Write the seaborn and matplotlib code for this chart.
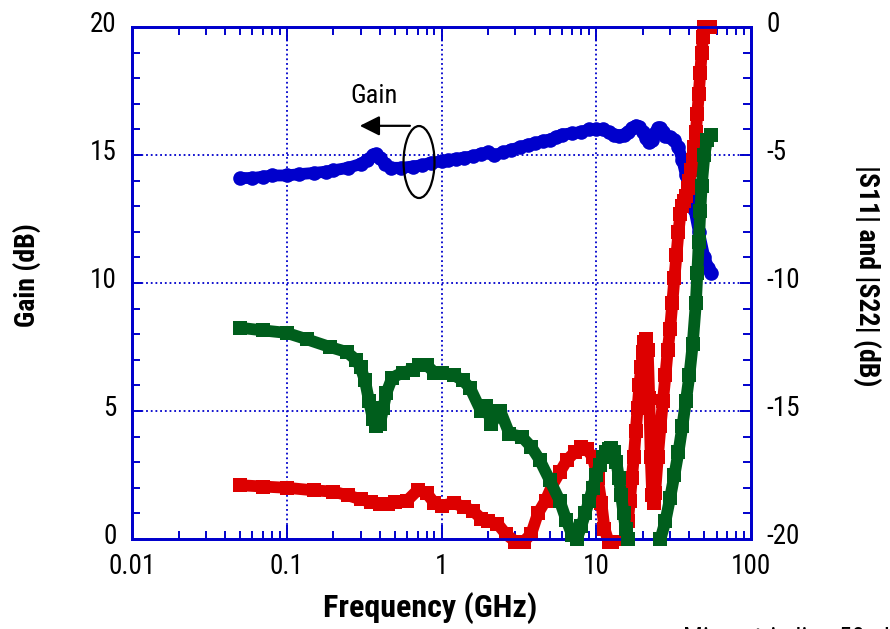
import numpy as np
import pandas as pd
import matplotlib
matplotlib.use("Agg")
import matplotlib.pyplot as plt
import matplotlib.transforms as mtransforms
import seaborn as sns
from matplotlib.patches import Ellipse
from matplotlib.ticker import LogLocator, MultipleLocator, FuncFormatter, NullFormatter

sns.set_theme(style="white")
plt.rcParams['font.family'] = ['Roboto Condensed', 'Archivo Narrow', 'DejaVu Sans']
plt.rcParams['axes.unicode_minus'] = False

# ---------------- data ----------------
gain_f = [0.05, 0.06, 0.07, 0.08, 0.1, 0.12, 0.15, 0.18, 0.2, 0.25, 0.3, 0.33, 0.36, 0.38,
          0.4, 0.43, 0.47, 0.55, 0.65, 0.75, 0.85, 1.0, 1.1, 1.25, 1.4, 1.6, 1.8, 2.0, 2.2,
          2.5, 2.8, 3.2, 3.6, 4.0, 4.5, 5.0, 5.5, 6.0, 7.0, 8.0, 9.0, 10, 11, 12, 13, 14, 15,
          16, 17, 18, 19, 20, 21, 22, 23, 24, 25, 26, 27, 28, 30, 32, 34, 36, 38, 40, 43, 46,
          50, 53, 55]
gain_db = [14.1, 14.1, 14.15, 14.2, 14.2, 14.25, 14.3, 14.35, 14.4, 14.5, 14.65, 14.8, 15.0, 15.05,
           14.9, 14.65, 14.5, 14.5, 14.55, 14.6, 14.7, 14.75, 14.8, 14.85, 14.9, 14.95, 15.05, 15.1, 15.0,
           15.1, 15.2, 15.3, 15.4, 15.45, 15.55, 15.6, 15.7, 15.8, 15.85, 15.9, 16.0, 16.0, 16.0, 15.9, 15.8, 15.75, 15.8,
           15.9, 16.05, 16.15, 16.1, 15.9, 15.65, 15.5, 15.6, 15.85, 16.05, 16.05, 15.9, 15.75, 15.7, 15.6, 15.3, 14.8, 14.2, 13.7, 12.9, 12.0,
           11.0, 10.6, 10.4]

# |S11| (right axis), two measured stretches (below -20 dB in between is off scale)
s11_f1 = [0.05, 0.07, 0.1, 0.15, 0.2, 0.25, 0.3, 0.35, 0.4, 0.45, 0.5, 0.6, 0.7, 0.8, 0.9,
          1.0, 1.2, 1.4, 1.6, 1.8, 2.0, 2.3, 2.6, 3.0, 3.4, 3.8, 4.2, 4.7, 5.2, 5.8, 6.5, 7.3,
          8.0, 8.7, 9.5, 10.2, 10.8, 11.3, 12.0, 12.7]
s11_db1 = [-17.9, -17.95, -18.0, -18.1, -18.15, -18.3, -18.45, -18.55, -18.65, -18.65, -18.55, -18.5, -18.1, -18.2, -18.6,
           -18.7, -18.6, -18.75, -18.9, -19.2, -19.3, -19.4, -19.8, -20.1, -20.1, -19.8, -19.0, -18.5, -17.9, -17.4, -16.9, -16.6,
           -16.4, -16.5, -16.8, -17.6, -18.6, -19.6, -20.1, -20.1]
s11_f2 = [15.5, 16.0, 16.5, 17.0, 17.5, 18.0, 18.5, 19.0, 19.5, 20.0, 20.5, 21.0, 21.5, 22.0,
          22.5, 23.0, 23.5, 24.0, 25.0, 26.0, 27.0, 28.0, 29.0, 30.0, 31.0, 32.0, 33.0, 34.0,
          35.0, 36.0, 37.0, 38.0, 39.0, 40.0, 41.0, 42.0, 43.0, 44.0, 45.0, 46.0, 47.0, 48.0,
          49.0, 50.0, 52.0, 54.0]
s11_db2 = [-20.0, -19.3, -18.5, -17.6, -16.8, -15.8, -14.9, -14.0, -13.3, -12.7, -12.3, -12.2, -12.6, -14.5,
           -16.8, -18.3, -18.6, -18.2, -16.8, -15.6, -14.6, -13.6, -12.6, -11.8, -10.8, -9.8, -8.9, -8.0,
           -7.3, -7.0, -6.8, -6.6, -6.3, -6.0, -5.6, -5.2, -4.7, -4.1, -3.4, -2.6, -1.8, -1.0,
           -0.4, 0.0, 0.0, 0.0]

# |S22| (right axis)
s22_f1 = [0.05, 0.07, 0.1, 0.135, 0.19, 0.245, 0.28, 0.3, 0.32, 0.34, 0.36, 0.38, 0.4, 0.42, 0.44,
          0.48, 0.56, 0.65, 0.72, 0.8, 0.9, 1.0, 1.2, 1.37, 1.53, 1.8, 1.95, 2.1, 2.4, 2.75,
          3.3, 3.8, 4.3, 5.0, 5.8, 6.4, 7.0, 7.5, 8.0, 8.5, 9.0, 9.5, 10.0, 10.5, 11.0,
          11.5, 12.0, 12.5, 13.0, 13.5, 14.0, 14.5, 15.0, 15.5, 16.0]
s22_db1 = [-11.75, -11.85, -11.95, -12.2, -12.5, -12.7, -13.0, -13.3, -13.8, -14.6, -15.3, -15.6, -15.5, -14.9, -14.3,
           -13.7, -13.5, -13.4, -13.2, -13.2, -13.5, -13.5, -13.6, -13.8, -14.1, -15.0, -14.8, -15.5, -15.0, -15.9,
           -16.0, -16.4, -16.9, -17.7, -18.5, -19.25, -19.85, -20.0, -19.5, -19.0, -18.5, -18.0, -17.5, -17.1, -16.8,
           -16.6, -16.5, -16.45, -16.6, -17.0, -17.6, -18.3, -19.0, -19.6, -20.0]
s22_f2 = [26, 28, 30, 32, 34, 36, 38, 40, 42, 44, 45, 46, 47, 48, 50, 52, 55]
s22_db2 = [-20.0, -19.3, -18.4, -17.5, -16.6, -15.6, -14.6, -13.6, -12.4, -10.8, -9.6, -8.4, -7.2, -6.2, -5.0, -4.4, -4.2]

x_ticks = [0.01, 0.1, 1, 10, 100]
gain_ticks = [0, 5, 10, 15, 20]
s_ticks = [-20, -15, -10, -5, 0]

BLUE = '#0000CC'
RED = '#DD0000'
GREEN = '#005E1C'

gain_df = pd.DataFrame({'f': gain_f, 'v': gain_db})
s11_df = pd.concat([pd.DataFrame({'f': s11_f1, 'v': s11_db1, 'seg': 0}),
                    pd.DataFrame({'f': s11_f2, 'v': s11_db2, 'seg': 1})], ignore_index=True)
s22_df = pd.concat([pd.DataFrame({'f': s22_f1, 'v': s22_db1, 'seg': 0}),
                    pd.DataFrame({'f': s22_f2, 'v': s22_db2, 'seg': 1})], ignore_index=True)

# ---------------- figure ----------------
fig = plt.figure(figsize=(8.9, 6.29), dpi=100)
fig.patch.set_facecolor('white')
ax = fig.add_axes([132 / 890, 1 - 539 / 629, (751 - 132) / 890, (539 - 27) / 629])
ax.set_xscale('log')
ax2 = ax.twinx()

common = dict(estimator=None, sort=False, legend=False, linewidth=8.5, markersize=10.5,
              markeredgewidth=0, clip_on=False, solid_capstyle='round', solid_joinstyle='round')

sns.lineplot(data=gain_df, x='f', y='v', ax=ax, color=BLUE, marker='o', zorder=3, **common)
sns.lineplot(data=s11_df, x='f', y='v', units='seg', ax=ax2, color=RED, marker='s', zorder=2, **common)
sns.lineplot(data=s22_df, x='f', y='v', units='seg', ax=ax2, color=GREEN, marker='s', zorder=4, **common)

ax.set_xlim(0.01, 100)
ax.set_ylim(0, 20)
ax2.set_ylim(-20, 0)

ax.xaxis.set_major_locator(LogLocator(base=10, numticks=10))
ax.xaxis.set_minor_locator(LogLocator(base=10, subs=np.arange(2, 10), numticks=50))
ax.xaxis.set_major_formatter(FuncFormatter(lambda v, p: f'{v:g}'))
ax.xaxis.set_minor_formatter(NullFormatter())
ax.set_xticks(x_ticks)
ax.set_yticks(gain_ticks)
ax.yaxis.set_minor_locator(MultipleLocator(1))
ax2.set_yticks(s_ticks)
ax2.yaxis.set_major_formatter(FuncFormatter(lambda v, p: f'{v:g}'))
ax2.yaxis.set_minor_locator(MultipleLocator(1))

ax.tick_params(axis='x', which='both', direction='in', top=True, bottom=True,
               color=BLUE, width=1.4, labelsize=19.5, pad=10, labelcolor='black')
ax.tick_params(axis='x', which='major', length=10)
ax.tick_params(axis='x', which='minor', length=5.5)
ax.tick_params(axis='y', which='both', direction='in', left=True, right=False,
               color=BLUE, width=1.4, labelsize=19.5, pad=11, labelcolor='black')
ax.tick_params(axis='y', which='major', length=7)
ax.tick_params(axis='y', which='minor', length=5.5)
ax2.tick_params(axis='y', which='both', direction='in', right=True, left=False,
                color=BLUE, width=1.4, labelsize=19.5, pad=11, labelcolor='black')
ax2.tick_params(axis='y', which='major', length=8)
ax2.tick_params(axis='y', which='minor', length=5.5)

# the reference prints the y tick labels a few pixels above their ticks
shift = mtransforms.ScaledTranslation(0, 5 / 100, fig.dpi_scale_trans)
for a in (ax, ax2):
    for lab in a.get_yticklabels():
        lab.set_transform(lab.get_transform() + shift)

ax.grid(True, which='major', color=BLUE, linestyle=(0, (1, 1.6)), linewidth=1.3)
ax.grid(False, which='minor')
ax2.grid(False)
ax.set_axisbelow(True)

for a in (ax, ax2):
    for s in a.spines.values():
        s.set_color(BLUE)
        s.set_linewidth(2)

ax.set_xlabel('Frequency (GHz)', fontsize=23, fontweight='bold', color='black')
ax.xaxis.set_label_coords(0.481, -0.103)
ax.set_ylabel('Gain (dB)', fontsize=20, fontweight='bold', color='black')
ax.yaxis.set_label_coords(-0.147, 0.515)
ax2.set_ylabel('|S11| and |S22| (dB)', fontsize=20, fontweight='bold', color='black',
               rotation=270, va='bottom')
ax2.yaxis.set_label_coords(1.165, 0.515)

# annotation: Gain -> left axis
ax2.text(0.391, 0.865, 'Gain', transform=ax2.transAxes, fontsize=19, ha='center', va='center',
         color='black', zorder=10)
ax2.annotate('', xy=(0.368, 0.807), xytext=(0.449, 0.807), xycoords='axes fraction',
             textcoords='axes fraction',
             arrowprops=dict(arrowstyle='-|>,head_length=0.6,head_width=0.3', color='black',
                             lw=1.6, mutation_scale=20, shrinkA=0, shrinkB=0), zorder=10)
ax2.add_patch(Ellipse((0.4637, 0.7363), 0.050, 0.1406, transform=ax2.transAxes,
                      fill=False, edgecolor='black', linewidth=1.6, zorder=10))

fig.text(683 / 890, 0.003, 'Microstrip line 50 ohm', fontsize=19, ha='left', va='top', color='black')

fig.savefig('out.png', dpi=100, facecolor='white')
